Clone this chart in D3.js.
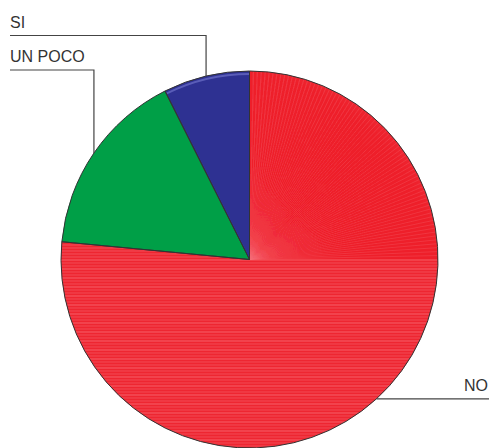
<!DOCTYPE html>
<html><head><meta charset="utf-8">
<script src="https://cdn.jsdelivr.net/npm/d3@7"></script>
<style>html,body{margin:0;padding:0;background:#fff}svg{display:block}</style>
</head><body>
<svg id="c" width="489" height="448"></svg>
<script>
const categories = ["NO", "UN POCO", "SI"];
const values = [76.5, 16.1, 7.4];
const colors = ["#ee2631", "#03a54f", "#2e3192"];
const lightColors = ["#f6707a", "#4cc485", "#5a5db8"];

const W = 489, H = 448, cx = 249.5, cy = 259.5, R = 188.5;
const svg = d3.select("#c");
const data = categories.map((c, i) => ({cat: c, v: values[i], i}));
const pie = d3.pie().sort(null).value(d => d.v);
const arcs = pie(data);
const arc = d3.arc().innerRadius(0).outerRadius(R);
const g = svg.append("g").attr("transform", `translate(${cx},${cy})`);
const defs = svg.append("defs");

arcs.forEach((a, k) => {
  defs.append("clipPath").attr("id", "clip" + k).append("path").attr("d", arc(a));
});

g.selectAll("path.slice").data(arcs).enter().append("path")
  .attr("class", "slice").attr("d", arc).attr("fill", d => colors[d.data.i]);

// decorative shading
const red = g.append("g").attr("clip-path", "url(#clip0)");
for (let y = 0; y < R; y += 3) {
  red.append("line").attr("x1", -R).attr("x2", R).attr("y1", y + 0.5).attr("y2", y + 0.5)
    .attr("stroke", lightColors[0]).attr("stroke-width", 0.9)
    .attr("opacity", (y % 9 === 0) ? 0.9 : 0.55);
}
for (let y = -3; y > -R; y -= 3) {
  red.append("line").attr("x1", -R).attr("x2", 0).attr("y1", y + 0.5).attr("y2", y + 0.5)
    .attr("stroke", lightColors[0]).attr("stroke-width", 0.9).attr("opacity", 0.65);
}
for (let t = 0; t < 90; t += 1.2) {
  const rad = t * Math.PI / 180;
  red.append("line").attr("x1", 0).attr("y1", 0)
    .attr("x2", R * Math.sin(rad)).attr("y2", -R * Math.cos(rad))
    .attr("stroke", lightColors[0]).attr("stroke-width", 0.5).attr("opacity", 0.55);
}
const green = g.append("g").attr("clip-path", "url(#clip1)");
for (let k = 0; k < 10; k++) {
  const off = -R * 0.93 + k * 2.2;
  green.append("line").attr("x1", off - 200).attr("y1", -200).attr("x2", off + 200).attr("y2", 200)
    .attr("transform", "rotate(-10)")
    .attr("stroke", lightColors[1]).attr("stroke-width", 0.8).attr("opacity", 0.75 - k * 0.06);
}
const aB = arcs[2];
g.append("path").attr("d", d3.arc().innerRadius(R - 4).outerRadius(R - 2)
  .startAngle(aB.startAngle).endAngle(aB.endAngle)()).attr("fill", lightColors[2]);

g.selectAll("path.outline").data(arcs).enter().append("path")
  .attr("d", arc).attr("fill", "none").attr("stroke", "#333").attr("stroke-width", 1);

const labelY = {"SI": 35.5, "UN POCO": 70};
const textY = {"SI": 28, "UN POCO": 62};
arcs.forEach(a => {
  const m = (a.startAngle + a.endAngle) / 2;
  const px = cx + R * Math.sin(m), py = cy - R * Math.cos(m);
  const c = a.data.cat;
  if (c === "NO") {
    svg.append("line").attr("x1", px).attr("y1", py).attr("x2", W).attr("y2", py)
      .attr("stroke", "#444").attr("stroke-width", 1.2);
    svg.append("text").attr("x", 488).attr("y", py - 8).attr("text-anchor", "end")
      .attr("font-family", "Liberation Sans, Arial, sans-serif").attr("font-size", 16)
      .attr("fill", "#333").text(c);
  } else {
    const ly = labelY[c];
    svg.append("polyline").attr("points", `${px},${py} ${px},${ly} 10,${ly}`)
      .attr("fill", "none").attr("stroke", "#444").attr("stroke-width", 1.2);
    svg.append("text").attr("x", 10).attr("y", textY[c])
      .attr("font-family", "Liberation Sans, Arial, sans-serif").attr("font-size", 16)
      .attr("fill", "#333").text(c);
  }
});
</script>
</body></html>
